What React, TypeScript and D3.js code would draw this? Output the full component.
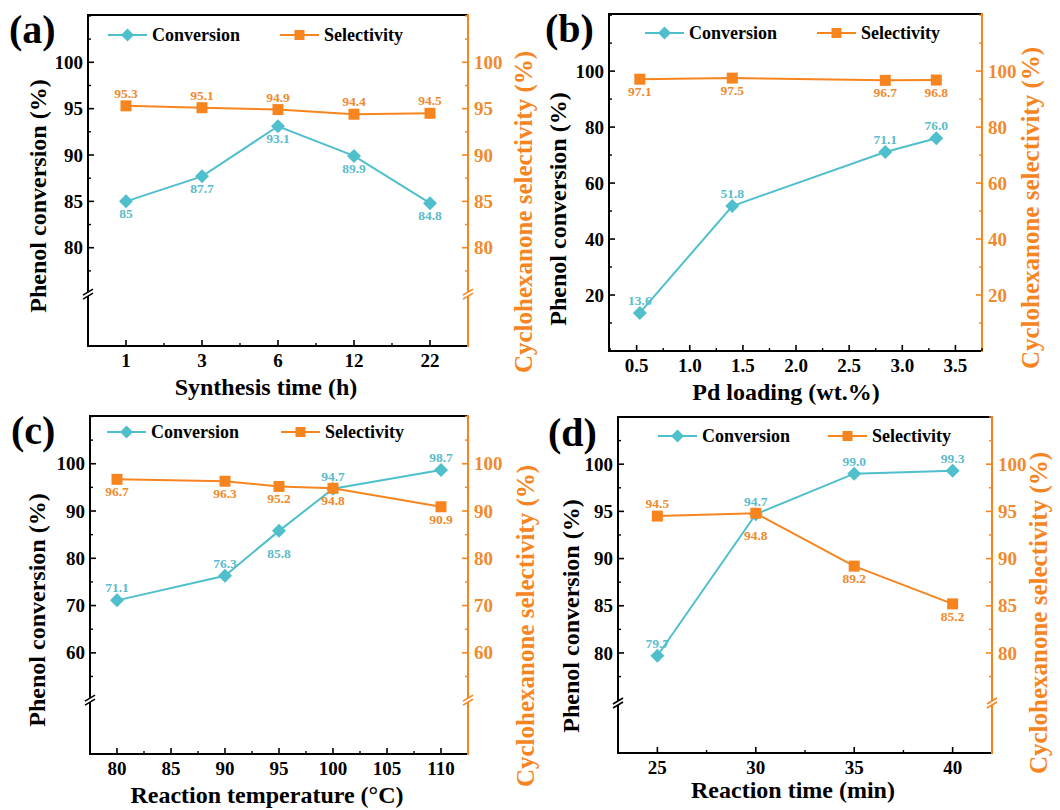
import React from "react";
import * as d3 from "d3";

// ---------------- DATA ----------------
const aCategories = ["1", "3", "6", "12", "22"];
const aConversion = [85, 87.7, 93.1, 89.9, 84.8];
const aSelectivity = [95.3, 95.1, 94.9, 94.4, 94.5];
const aConvText = ["85", "87.7", "93.1", "89.9", "84.8"];
const aSelText = ["95.3", "95.1", "94.9", "94.4", "94.5"];
const aYTicks = [80, 85, 90, 95, 100];

const bLoading = [0.53, 1.4, 2.84, 3.32];
const bConversion = [13.6, 51.8, 71.1, 76.0];
const bSelectivity = [97.1, 97.5, 96.7, 96.8];
const bXTicks = [0.5, 1.0, 1.5, 2.0, 2.5, 3.0, 3.5];
const bYTicks = [20, 40, 60, 80, 100];

const cTemperature = [80, 90, 95, 100, 110];
const cConversion = [71.1, 76.3, 85.8, 94.7, 98.7];
const cSelectivity = [96.7, 96.3, 95.2, 94.8, 90.9];
const cXTicks = [80, 85, 90, 95, 100, 105, 110];
const cYTicks = [60, 70, 80, 90, 100];

const dTime = [25, 30, 35, 40];
const dConversion = [79.7, 94.7, 99.0, 99.3];
const dSelectivity = [94.5, 94.8, 89.2, 85.2];
const dXTicks = [25, 30, 35, 40];
const dYTicks = [80, 85, 90, 95, 100];

// label placement (a = above, b = below, B = further below)
const aConvPlace = ["b", "b", "b", "b", "b"];
const aSelPlace = ["a", "a", "a", "a", "a"];
const bConvPlace = ["a", "a", "a", "a"];
const bSelPlace = ["b", "b", "b", "b"];
const cConvPlace = ["a", "a", "B", "a", "a"];
const cSelPlace = ["b", "b", "b", "b", "b"];
const dConvPlace = ["a", "a", "a", "a"];
const dSelPlace = ["a", "B", "b", "b"];

// ---------------- STYLE ----------------
const TEAL = "#4FBFCC";
const TEAL_TXT = "#5BBCCB";
const ORANGE = "#F7851F";
const ORANGE_TXT = "#F08A2C";
const FONT = "'Liberation Serif','Times New Roman',serif";

type Box = { left: number; top: number; right: number; bottom: number };

interface Cfg {
  tag: string;
  tagPos: [number, number];
  box: Box;
  x: (i: number) => number;
  xTickPx: number[];
  xTickLabels: string[];
  xMinorPx: number[];
  xTitle: string;
  xTitlePos: [number, number];
  yDomain: [number, number];
  yTicks: number[];
  yMinorStep: number;
  breakAt: number | null;
  conv: number[];
  sel: number[];
  convText: string[];
  selText: string[];
  convPlace: string[];
  selPlace: string[];
  leftTitlePos: [number, number];
  rightTitlePos: [number, number];
  legend: { convX: number; selX: number; y: number };
}

function BreakMark({ x0, y0, color }: { x0: number; y0: number; color: string }) {
  return (
    <g>
      <polygon
        points={`${x0 - 5},${y0 + 1} ${x0 + 5},${y0 - 5} ${x0 + 5},${y0 - 1} ${x0 - 5},${y0 + 5}`}
        fill="white"
      />
      <line x1={x0 - 5} y1={y0 + 1} x2={x0 + 5} y2={y0 - 5} stroke={color} strokeWidth={1.6} />
      <line x1={x0 - 5} y1={y0 + 5} x2={x0 + 5} y2={y0 - 1} stroke={color} strokeWidth={1.6} />
    </g>
  );
}

function Diamond({ cx, cy, r, fill }: { cx: number; cy: number; r: number; fill: string }) {
  return <path d={`M${cx},${cy - r}L${cx + r},${cy}L${cx},${cy + r}L${cx - r},${cy}Z`} fill={fill} />;
}

function Panel({ cfg }: { cfg: Cfg }) {
  const { left, top, right, bottom } = cfg.box;
  const y = d3.scaleLinear().domain(cfg.yDomain).range([bottom, top]);
  const minorStart = cfg.breakAt !== null ? cfg.breakAt : cfg.yDomain[0];
  const minors: number[] = [];
  for (let v = cfg.yTicks[0] - cfg.yMinorStep; v <= cfg.yDomain[1]; v += cfg.yMinorStep) {
    if (v > minorStart + 0.01 && !cfg.yTicks.includes(+v.toFixed(4))) minors.push(v);
  }
  const line = d3
    .line<number>()
    .x((_, i) => cfg.x(i))
    .y((d) => y(d));

  const labelY = (v: number, p: string) =>
    p === "a" ? y(v) - 8 : p === "B" ? y(v) + 27 : y(v) + 17;
  const tickFont = 19;

  return (
    <g>
      <text x={cfg.tagPos[0]} y={cfg.tagPos[1]} fontFamily={FONT} fontWeight="bold" fontSize={40}>
        {cfg.tag}
      </text>

      {/* frame */}
      <line x1={left} y1={top} x2={right} y2={top} stroke="black" strokeWidth={2} />
      <line x1={left} y1={top - 1} x2={left} y2={bottom + 1} stroke="black" strokeWidth={2} />
      <line x1={left - 1} y1={bottom} x2={right} y2={bottom} stroke="black" strokeWidth={2} />
      <line x1={right} y1={top - 1} x2={right} y2={bottom + 1} stroke={ORANGE} strokeWidth={2} />

      {/* y ticks */}
      {cfg.yTicks.map((t) => (
        <g key={"ly" + t}>
          <line x1={left} x2={left + 6} y1={y(t)} y2={y(t)} stroke="black" strokeWidth={1.6} />
          <text
            x={left - 5}
            y={y(t)}
            dy="0.35em"
            textAnchor="end"
            fontFamily={FONT}
            fontWeight="bold"
            fontSize={tickFont}
          >
            {t}
          </text>
          <line x1={right} x2={right - 6} y1={y(t)} y2={y(t)} stroke={ORANGE} strokeWidth={1.6} />
          <text
            x={right + 6}
            y={y(t)}
            dy="0.35em"
            textAnchor="start"
            fontFamily={FONT}
            fontWeight="bold"
            fontSize={tickFont}
            fill={ORANGE_TXT}
          >
            {t}
          </text>
        </g>
      ))}
      {minors.map((t) => (
        <g key={"my" + t}>
          <line x1={left} x2={left + 3} y1={y(t)} y2={y(t)} stroke="black" strokeWidth={1.4} />
          <line x1={right} x2={right - 3} y1={y(t)} y2={y(t)} stroke={ORANGE} strokeWidth={1.4} />
        </g>
      ))}
      {cfg.breakAt !== null && (
        <g>
          <BreakMark x0={left} y0={y(cfg.breakAt)} color="black" />
          <BreakMark x0={right} y0={y(cfg.breakAt)} color={ORANGE} />
        </g>
      )}

      {/* x ticks */}
      {cfg.xTickPx.map((px, i) => (
        <g key={"xt" + i}>
          <line x1={px} x2={px} y1={bottom} y2={bottom - 6} stroke="black" strokeWidth={1.6} />
          <text
            x={px}
            y={bottom + 21}
            textAnchor="middle"
            fontFamily={FONT}
            fontWeight="bold"
            fontSize={tickFont}
          >
            {cfg.xTickLabels[i]}
          </text>
        </g>
      ))}
      {cfg.xMinorPx.map((px, i) => (
        <line key={"xm" + i} x1={px} x2={px} y1={bottom} y2={bottom - 3} stroke="black" strokeWidth={1.4} />
      ))}

      {/* titles */}
      <text
        x={cfg.xTitlePos[0]}
        y={cfg.xTitlePos[1]}
        textAnchor="middle"
        fontFamily={FONT}
        fontWeight="bold"
        fontSize={24}
      >
        {cfg.xTitle}
      </text>
      <text
        transform={`translate(${cfg.leftTitlePos[0]},${cfg.leftTitlePos[1]}) rotate(-90)`}
        dy="0.35em"
        textAnchor="middle"
        fontFamily={FONT}
        fontWeight="bold"
        fontSize={24}
      >
        Phenol conversion (%)
      </text>
      <text
        transform={`translate(${cfg.rightTitlePos[0]},${cfg.rightTitlePos[1]}) rotate(-90)`}
        dy="0.35em"
        textAnchor="middle"
        fontFamily={FONT}
        fontWeight="bold"
        fontSize={25}
        fill={ORANGE}
      >
        Cyclohexanone selectivity (%)
      </text>

      {/* legend */}
      <g>
        <line
          x1={cfg.legend.convX}
          x2={cfg.legend.convX + 39}
          y1={cfg.legend.y}
          y2={cfg.legend.y}
          stroke={TEAL}
          strokeWidth={2}
        />
        <Diamond cx={cfg.legend.convX + 19.5} cy={cfg.legend.y} r={6.5} fill={TEAL} />
        <text
          x={cfg.legend.convX + 44}
          y={cfg.legend.y}
          dy="0.35em"
          fontFamily={FONT}
          fontWeight="bold"
          fontSize={18}
        >
          Conversion
        </text>
        <line
          x1={cfg.legend.selX}
          x2={cfg.legend.selX + 39}
          y1={cfg.legend.y}
          y2={cfg.legend.y}
          stroke={ORANGE}
          strokeWidth={2}
        />
        <rect x={cfg.legend.selX + 14.5} y={cfg.legend.y - 5} width={10} height={10} fill={ORANGE} />
        <text
          x={cfg.legend.selX + 44}
          y={cfg.legend.y}
          dy="0.35em"
          fontFamily={FONT}
          fontWeight="bold"
          fontSize={18}
        >
          Selectivity
        </text>
      </g>

      {/* conversion series */}
      <path d={line(cfg.conv) || ""} fill="none" stroke={TEAL} strokeWidth={2} />
      {cfg.conv.map((v, i) => (
        <Diamond key={"cd" + i} cx={cfg.x(i)} cy={y(v)} r={7} fill={TEAL} />
      ))}
      {/* selectivity series */}
      <path d={line(cfg.sel) || ""} fill="none" stroke={ORANGE} strokeWidth={2} />
      {cfg.sel.map((v, i) => (
        <rect key={"sq" + i} x={cfg.x(i) - 5.5} y={y(v) - 5.5} width={11} height={11} fill={ORANGE} />
      ))}

      {/* value labels */}
      {cfg.conv.map((v, i) => (
        <text
          key={"cl" + i}
          x={cfg.x(i)}
          y={labelY(v, cfg.convPlace[i])}
          textAnchor="middle"
          fontFamily={FONT}
          fontWeight="bold"
          fontSize={13.5}
          fill={TEAL_TXT}
        >
          {cfg.convText[i]}
        </text>
      ))}
      {cfg.sel.map((v, i) => (
        <text
          key={"sl" + i}
          x={cfg.x(i)}
          y={labelY(v, cfg.selPlace[i])}
          textAnchor="middle"
          fontFamily={FONT}
          fontWeight="bold"
          fontSize={13.5}
          fill={ORANGE_TXT}
        >
          {cfg.selText[i]}
        </text>
      ))}
    </g>
  );
}

function buildConfigs(): Cfg[] {
  const aBox = { left: 88, top: 15, right: 468, bottom: 346 };
  const ax = d3.scalePoint<string>().domain(aCategories).range([aBox.left, aBox.right]).padding(0.5);
  const aPx = aCategories.map((c) => ax(c) as number);
  const aMinor = aPx.slice(0, -1).map((p, i) => (p + aPx[i + 1]) / 2);

  const bBox = { left: 609, top: 14, right: 982, bottom: 351 };
  const bx = d3.scaleLinear().domain([0.24, 3.75]).range([bBox.left, bBox.right]);
  const bMinor = d3.range(0.25, 3.76, 0.5).map((v) => bx(v));

  const cBox = { left: 90, top: 416, right: 468, bottom: 754 };
  const cx = d3.scaleLinear().domain([77.5, 112.5]).range([cBox.left, cBox.right]);
  const cMinor = d3.range(82.5, 110, 5).map((v) => cx(v));

  const dBox = { left: 618, top: 417, right: 992, bottom: 753 };
  const dx = d3.scaleLinear().domain([23, 42]).range([dBox.left, dBox.right]);
  const dMinor = d3.range(27.5, 40, 5).map((v) => dx(v));

  return [
    {
      tag: "(a)",
      tagPos: [9, 43],
      box: aBox,
      x: (i) => aPx[i],
      xTickPx: aPx,
      xTickLabels: aCategories,
      xMinorPx: aMinor,
      xTitle: "Synthesis time (h)",
      xTitlePos: [266, 395],
      yDomain: [69.4, 105.1],
      yTicks: aYTicks,
      yMinorStep: 2.5,
      breakAt: 75,
      conv: aConversion,
      sel: aSelectivity,
      convText: aConvText,
      selText: aSelText,
      convPlace: aConvPlace,
      selPlace: aSelPlace,
      leftTitlePos: [38, 196],
      rightTitlePos: [523, 212],
      legend: { convX: 108, selX: 280, y: 35 },
    },
    {
      tag: "(b)",
      tagPos: [545, 42],
      box: bBox,
      x: (i) => bx(bLoading[i]),
      xTickPx: bXTicks.map((v) => bx(v)),
      xTickLabels: bXTicks.map((v) => v.toFixed(1)),
      xMinorPx: bMinor,
      xTitle: "Pd loading (wt.%)",
      xTitlePos: [786, 400],
      yDomain: [0, 120.4],
      yTicks: bYTicks,
      yMinorStep: 10,
      breakAt: null,
      conv: bConversion,
      sel: bSelectivity,
      convText: bConversion.map((v) => v.toFixed(1)),
      selText: bSelectivity.map((v) => v.toFixed(1)),
      convPlace: bConvPlace,
      selPlace: bSelPlace,
      leftTitlePos: [558, 209],
      rightTitlePos: [1030, 208],
      legend: { convX: 645, selX: 817, y: 33 },
    },
    {
      tag: "(c)",
      tagPos: [11, 444],
      box: cBox,
      x: (i) => cx(cTemperature[i]),
      xTickPx: cXTicks.map((v) => cx(v)),
      xTickLabels: cXTicks.map(String),
      xMinorPx: cMinor,
      xTitle: "Reaction temperature (°C)",
      xTitlePos: [267, 803],
      yDomain: [38.6, 110.1],
      yTicks: cYTicks,
      yMinorStep: 5,
      breakAt: 50,
      conv: cConversion,
      sel: cSelectivity,
      convText: cConversion.map((v) => v.toFixed(1)),
      selText: cSelectivity.map((v) => v.toFixed(1)),
      convPlace: cConvPlace,
      selPlace: cSelPlace,
      leftTitlePos: [37, 610],
      rightTitlePos: [525, 626],
      legend: { convX: 107, selX: 281, y: 432 },
    },
    {
      tag: "(d)",
      tagPos: [548, 446],
      box: dBox,
      x: (i) => dx(dTime[i]),
      xTickPx: dXTicks.map((v) => dx(v)),
      xTickLabels: dXTicks.map(String),
      xMinorPx: dMinor,
      xTitle: "Reaction time (min)",
      xTitlePos: [793, 798],
      yDomain: [69.4, 105],
      yTicks: dYTicks,
      yMinorStep: 2.5,
      breakAt: 74.7,
      conv: dConversion,
      sel: dSelectivity,
      convText: dConversion.map((v) => v.toFixed(1)),
      selText: dSelectivity.map((v) => v.toFixed(1)),
      convPlace: dConvPlace,
      selPlace: dSelPlace,
      leftTitlePos: [571, 616],
      rightTitlePos: [1038, 613],
      legend: { convX: 658, selX: 828, y: 436 },
    },
  ];
}

export default function App() {
  const cfgs = buildConfigs();
  return (
    <svg
      width={1060}
      height={810}
      style={{ position: "absolute", left: 0, top: 0, background: "white" }}
    >
      <rect x={0} y={0} width={1060} height={810} fill="white" />
      {cfgs.map((c) => (
        <Panel key={c.tag} cfg={c} />
      ))}
    </svg>
  );
}
